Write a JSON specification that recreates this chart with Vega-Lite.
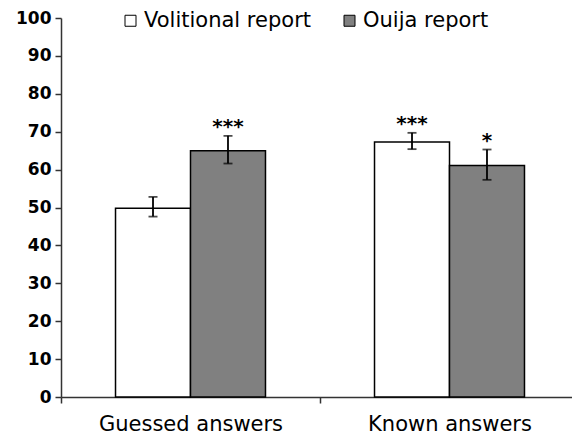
{
  "$schema": "https://vega.github.io/schema/vega-lite/v6.json",
  "autosize": {"type": "none"},
  "padding": {"left": 61, "top": 18, "right": 0, "bottom": 39},
  "width": 511,
  "height": 379,
  "background": "white",
  "config": {
    "view": {"stroke": null},
    "axisY": {
      "title": null, "tickCount": 10, "labelOverlap": false,
      "grid": false, "labelFont": "DejaVu Sans", "labelFontWeight": "bold",
      "labelFontSize": 17, "labelColor": "black", "labelPadding": 4,
      "tickSize": 6, "tickColor": "#333", "tickWidth": 1.5,
      "domainColor": "#333", "domainWidth": 1.5
    }
  },
  "data": {
    "values": [
      {"group": "Guessed answers", "report": "Volitional report", "value": 49.8, "lo": 47.6, "hi": 52.8, "stars": ""},
      {"group": "Guessed answers", "report": "Ouija report", "value": 65.0, "lo": 61.6, "hi": 68.9, "stars": "***"},
      {"group": "Known answers", "report": "Volitional report", "value": 67.3, "lo": 65.4, "hi": 69.7, "stars": "***"},
      {"group": "Known answers", "report": "Ouija report", "value": 61.1, "lo": 57.3, "hi": 65.3, "stars": "*"}
    ]
  },
  "encoding": {
    "x": {
      "field": "group", "type": "nominal",
      "scale": {"range": [0, 518], "paddingInner": 0, "paddingOuter": 0},
      "axis": {
        "title": null, "labelAngle": 0, "tickBand": "extent", "labelLimit": 400,
        "labelFont": "DejaVu Sans", "labelFontSize": 21, "labelColor": "black",
        "labelPadding": 10, "tickSize": 6, "tickColor": "#333", "tickWidth": 1.5,
        "domainColor": "#333", "domainWidth": 1.5
      }
    },
    "xOffset": {
      "field": "report", "type": "nominal",
      "sort": ["Volitional report", "Ouija report"],
      "scale": {"paddingInner": 0, "paddingOuter": 0.727}
    }
  },
  "layer": [
    {
      "mark": {"type": "bar", "stroke": "black", "strokeWidth": 1.5},
      "encoding": {
        "y": {
          "field": "value", "type": "quantitative",
          "scale": {"domain": [0, 100], "nice": false},
          "axis": {"title": null, "tickCount": 10}
        },
        "fill": {
          "field": "report", "type": "nominal",
          "sort": ["Volitional report", "Ouija report"],
          "scale": {"range": ["white", "#808080"]},
          "legend": {
            "title": null, "orient": "none", "direction": "horizontal",
            "legendX": 59, "legendY": -8, "labelLimit": 400,
            "symbolType": "square", "symbolSize": 121,
            "symbolStrokeColor": "black", "symbolStrokeWidth": 1,
            "labelFont": "DejaVu Sans", "labelFontSize": 21, "labelColor": "black",
            "labelOffset": 3, "columnPadding": 28
          }
        }
      }
    },
    {
      "mark": {"type": "rule", "color": "black", "strokeWidth": 1.8},
      "encoding": {
        "y": {"field": "lo", "type": "quantitative", "axis": {"title": null, "tickCount": 10}},
        "y2": {"field": "hi"}
      }
    },
    {
      "mark": {"type": "tick", "color": "black", "size": 9, "thickness": 1.8, "orient": "horizontal"},
      "encoding": {"y": {"field": "lo", "type": "quantitative", "axis": {"title": null, "tickCount": 10}}}
    },
    {
      "mark": {"type": "tick", "color": "black", "size": 9, "thickness": 1.8, "orient": "horizontal"},
      "encoding": {"y": {"field": "hi", "type": "quantitative", "axis": {"title": null, "tickCount": 10}}}
    },
    {
      "mark": {"type": "text", "font": "DejaVu Sans", "fontWeight": "bold", "fontSize": 20, "color": "black", "baseline": "alphabetic", "dy": -3},
      "encoding": {
        "y": {"field": "hi", "type": "quantitative", "axis": {"title": null, "tickCount": 10}},
        "text": {"field": "stars"}
      }
    }
  ]
}
